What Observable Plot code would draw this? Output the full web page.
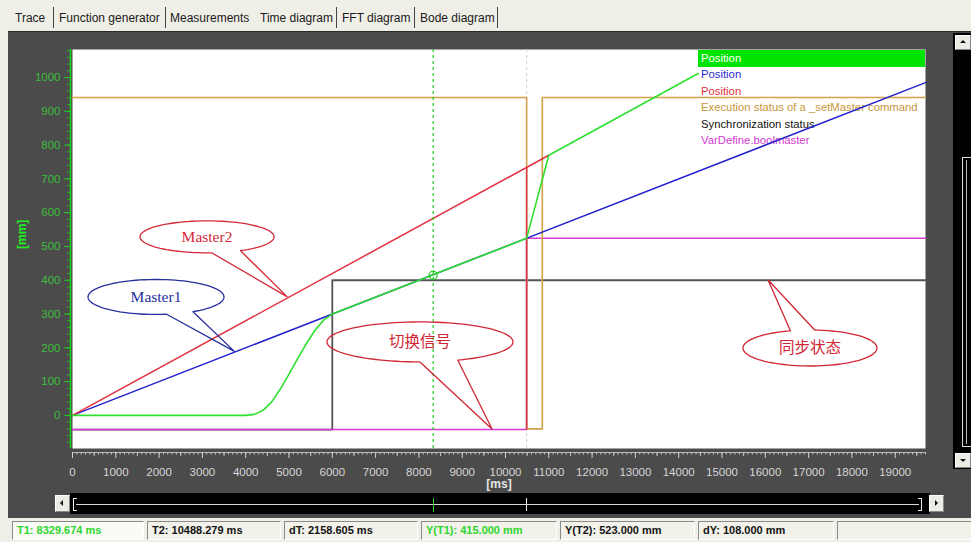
<!DOCTYPE html>
<html><head><meta charset="utf-8">
<script src="https://cdn.jsdelivr.net/npm/d3@7"></script>
<script src="https://cdn.jsdelivr.net/npm/@observablehq/plot@0.6"></script>
<style>
html,body{margin:0;padding:0;width:971px;height:542px;overflow:hidden;background:#efeee7;font-family:"Liberation Sans",Arial,sans-serif;}
.abs{position:absolute;}
.tab{position:absolute;top:10px;font-size:12px;color:#1a1a1a;line-height:16px;white-space:nowrap;}
.sep{position:absolute;top:7px;width:1px;height:21px;background:#444;}
#panel{left:8px;top:31px;width:963px;height:486px;background:#4b4b4b;border-top:1px solid #2a2a2a;}
#chart{left:8px;top:33px;}
.btn{position:absolute;background:#ecebe6;border:1px solid #fff;border-right-color:#888;border-bottom-color:#888;box-sizing:border-box;}
.tri{position:absolute;width:0;height:0;}
.cell{position:absolute;top:521px;height:19px;box-sizing:border-box;border-top:1px solid #8a8a8a;border-left:1px solid #8a8a8a;border-bottom:1px solid #fff;border-right:1px solid #fff;font-size:11px;font-weight:bold;line-height:17px;padding-left:4px;white-space:nowrap;color:#141414;background:#f2f1ea;}
</style></head>
<body>
<div id="tabs"></div>
<div id="panel" class="abs"></div>
<div id="chart" class="abs"></div>
<div id="ui"></div>
<div id="status"></div>
<script>
// ---------------- data ----------------
const tabLabels = ["Trace", "Function generator", "Measurements", "Time diagram", "FFT diagram", "Bode diagram"];

// Master1 position (blue)
const master1Time = [0, 19700];
const master1Pos = [0, 985];
// Master2 position (red)
const master2Time = [0, 11000];
const master2Pos = [0, 770];
// Slave position (green)
const slaveTime = [0, 4000, 4200, 4400, 4600, 4800, 5000, 5200, 5400, 5600, 5800, 6000, 10488, 11000, 14450];
const slavePos = [0, 0, 3, 15, 40, 78, 122, 168, 212, 252, 282, 300, 524, 770, 1012];
// Execution status of a _setMaster command (orange)
const execTime = [0, 10488, 10488, 10850, 10850, 19700];
const execStatus = [941, 941, -40, -40, 941, 941];
// Synchronization status (dark gray)
const syncTime = [0, 6000, 6000, 19700];
const syncStatus = [-42, -42, 400, 400];
// VarDefine.boolmaster (magenta)
const boolTime = [0, 10488, 10488, 19700];
const boolMaster = [-42, -42, 524, 524];
// switch signal edge (red vertical)
const switchTime = [10488, 10488];
const switchLevel = [-42, 733];

// cursors
const cursorT1 = 8329.674, cursorT2 = 10488.279;
const cursorY1 = 415, cursorY2 = 523;

// legend
const legendLabels = ["Position", "Position", "Position", "Execution status of a _setMaster command", "Synchronization status", "VarDefine.boolmaster"];
const legendColors = ["#ffffff", "#2a2ad6", "#e0303a", "#c8963a", "#111111", "#d23ad2"];

// ticks
const xTicks = d3.range(0, 19001, 1000);
const xMidTicks = d3.range(500, 19701, 1000);
const xMinorTicks = d3.range(0, 19701, 100);
const yTicks = d3.range(0, 1001, 100);
const yMinorTicks = d3.range(-80, 1081, 20);

// callouts (anchor and tip in data coordinates)
const calloutLabels = ["Master2", "Master1", "切换信号", "同步状态"];
const calloutT = [3118, 1940, 8037, 17044];
const calloutV = [527, 349, 216, 198];
const calloutTipT = [4966, 3750, 9700, 16073];
const calloutTipV = [350, 188, -42, 400];
const calloutRx = [67, 68, 93, 67];
const calloutRy = [16, 17.5, 20, 18];
const calloutGapA = [60, 57, 66, 253];
const calloutGapB = [86, 81, 90, 274];
const calloutColors = ["#d42a3a", "#26309e", "#d02636", "#d02636"];
const calloutFonts = ["'Liberation Serif','Times New Roman',serif", "'Liberation Serif','Times New Roman',serif", "'Noto Sans CJK SC',sans-serif", "'Noto Sans CJK SC',sans-serif"];

// ---------------- chart ----------------
const rows = (T, V) => T.map((t, i) => ({t, v: V[i]}));
const trace = (T, V, color, w = 1.5) => Plot.line(rows(T, V), {x: "t", y: "v", stroke: color, strokeWidth: w});

function legendMark(index, scales, values, dims) {
  const g = d3.create("svg:g");
  const x0 = dims.width - dims.marginRight - 227, y0 = dims.marginTop + 1;
  g.append("clipPath").attr("id", "lgclip").append("rect")
    .attr("x", x0).attr("y", y0 - 1).attr("width", 227).attr("height", 120);
  g.append("rect").attr("x", x0).attr("y", y0).attr("width", 227).attr("height", 17).attr("fill", "#00e400");
  const tg = g.append("g").attr("clip-path", "url(#lgclip)");
  legendLabels.forEach((d, i) => {
    tg.append("text").attr("x", x0 + 3).attr("y", y0 + 8 + i * 16.5).attr("dy", "0.35em")
      .attr("text-anchor", "start")
      .attr("fill", legendColors[i]).attr("font-size", 11.3).attr("font-family", "'Liberation Sans',Arial,sans-serif").text(d);
  });
  return g.node();
}

function calloutMark(index, scales, values, dims) {
  const g = d3.create("svg:g");
  calloutLabels.forEach((lab, i) => {
    const cx = scales.x(calloutT[i]), cy = scales.y(calloutV[i]);
    const tx = scales.x(calloutTipT[i]), ty = scales.y(calloutTipV[i]);
    const a = calloutGapA[i] * Math.PI / 180, b = calloutGapB[i] * Math.PI / 180;
    const rx = calloutRx[i], ry = calloutRy[i];
    const pts = [];
    const n = 90;
    for (let k = 0; k <= n; k++) {
      const th = b + (a + 2 * Math.PI - b) * k / n;
      pts.push([cx + rx * Math.cos(th), cy + ry * Math.sin(th)]);
    }
    pts.push([tx, ty]);
    pts.push(pts[0]);
    g.append("path").attr("d", d3.line()(pts)).attr("fill", "none")
      .attr("stroke", calloutColors[i]).attr("stroke-width", 1.3).attr("stroke-linejoin", "round");
    g.append("text").attr("x", cx).attr("y", cy).attr("dy", "0.35em").attr("text-anchor", "middle")
      .attr("fill", calloutColors[i]).attr("font-size", 15.5)
      .attr("font-family", calloutFonts[i]).text(lab);
  });
  return g.node();
}

const chart = Plot.plot({
  width: 940, height: 457,
  marginLeft: 64, marginRight: 23, marginTop: 16, marginBottom: 42,
  style: {background: "transparent", fontFamily: "'Liberation Sans',Arial,sans-serif", fontSize: "11px", overflow: "visible"},
  x: {domain: [0, 19700], label: null},
  y: {domain: [-98, 1083], label: null},
  marks: [
    Plot.frame({fill: "#ffffff", stroke: null}),
    // x ruler
    Plot.ruleY([-98], {dy: 4, stroke: "#b8b8b8"}),
    Plot.axisX(xMinorTicks, {tickSize: 2.5, dy: 4, stroke: "#c4c4c4", tickFormat: () => ""}),
    Plot.axisX(xMidTicks, {tickSize: 4, dy: 4, stroke: "#c4c4c4", tickFormat: () => ""}),
    Plot.axisX(xTicks, {tickSize: 6, dy: 4, tickPadding: 9, stroke: "#d0d0d0", fill: "#d6d6d6", fontSize: 11.5, tickFormat: d => String(d)}),
    // y ruler
    Plot.ruleX([0], {dx: -2, stroke: "#1fcf1f", strokeWidth: 1.5}),
    Plot.axisY(yMinorTicks, {tickSize: 3, dx: -2, stroke: "#22bb22", tickFormat: () => ""}),
    Plot.axisY(yTicks, {tickSize: 6, dx: -2, tickPadding: 4, stroke: "#22cc22", fill: "#3cbf3c", fontSize: 11.5, tickFormat: d => String(d)}),
    Plot.text(["[mm]"], {frameAnchor: "left", dx: -50, rotate: -90, fill: "#22ee22", fontWeight: "bold", fontSize: 12}),
    Plot.text(["[ms]"], {frameAnchor: "bottom", dy: 39, fill: "#e4e4e4", fontWeight: "bold", fontSize: 12}),
    // legend (beneath traces)
    legendMark,
    // cursor T2
    Plot.ruleX([cursorT2], {stroke: "#cfcfcf", strokeDasharray: "3,3"}),
    // traces
    trace(syncTime, syncStatus, "#555555", 1.8),
    trace(boolTime, boolMaster, "#d83ad8", 1.5),
    trace(execTime, execStatus, "#d4a049", 1.6),
    trace(master1Time, master1Pos, "#2222cc", 1.5),
    trace(master2Time, master2Pos, "#e33040", 1.5),
    trace(switchTime, switchLevel, "#d83848", 1.5),
    trace(slaveTime, slavePos, "#2fe02f", 1.6),
    // cursor T1
    Plot.ruleX([cursorT1], {stroke: "#1fcc1f", strokeWidth: 1.2, strokeDasharray: "3,3"}),
    Plot.dot([{t: cursorT1, v: cursorY1}], {x: "t", y: "v", r: 4, stroke: "#1fcc1f", fill: "none", strokeWidth: 1.2}),
    calloutMark
  ]
});
document.getElementById("chart").appendChild(chart);

// ---------------- surrounding UI ----------------
const tabX = [15, 59, 170, 260, 342, 420];
const sepX = [53, 165, 336, 414, 497];
const tabs = document.getElementById("tabs");
tabLabels.forEach((t, i) => {
  const d = document.createElement("div"); d.className = "tab"; d.style.left = tabX[i] + "px"; d.textContent = t; tabs.appendChild(d);
});
sepX.forEach(x => { const s = document.createElement("div"); s.className = "sep"; s.style.left = x + "px"; tabs.appendChild(s); });

const ui = document.getElementById("ui");
function box(css, cls) { const d = document.createElement("div"); d.className = cls || "abs"; d.setAttribute("style", css); ui.appendChild(d); return d; }
// right vertical scrollbar
box("left:953px;top:33px;width:18px;height:436px;background:#000;");
box("left:955px;top:35px;width:16px;height:15px;", "btn");
box("left:960px;top:40px;border-left:3px solid transparent;border-right:3px solid transparent;border-bottom:3px solid #111;", "tri");
box("left:955px;top:453px;width:16px;height:15px;", "btn");
box("left:960px;top:459px;border-left:3px solid transparent;border-right:3px solid transparent;border-top:3px solid #111;", "tri");
box("left:962px;top:157px;width:9px;height:290px;border-left:1px solid #ddd;border-top:1px solid #ddd;border-bottom:1px solid #ddd;box-sizing:border-box;");
box("left:966px;top:160px;width:1px;height:284px;background:#bbb;");
// bottom horizontal scrollbar
box("left:70px;top:493px;width:860px;height:21px;background:#000;");
box("left:55px;top:495px;width:15px;height:17px;", "btn");
box("left:60px;top:500px;border-top:3px solid transparent;border-bottom:3px solid transparent;border-right:3px solid #111;", "tri");
box("left:929px;top:495px;width:15px;height:17px;", "btn");
box("left:935px;top:500px;border-top:3px solid transparent;border-bottom:3px solid transparent;border-left:3px solid #111;", "tri");
box("left:73px;top:498px;width:4px;height:13px;border-left:1px solid #eee;border-top:1px solid #eee;border-bottom:1px solid #eee;box-sizing:border-box;");
box("left:918px;top:498px;width:4px;height:13px;border-right:1px solid #eee;border-top:1px solid #eee;border-bottom:1px solid #eee;box-sizing:border-box;");
box("left:76px;top:504px;width:843px;height:1px;background:#d8d8d8;");
const sx = chart.scale("x");
box(`left:${Math.round(8 + sx.apply(cursorT1))}px;top:498px;width:1px;height:14px;background:#2fd02f;`);
box(`left:${Math.round(8 + sx.apply(cursorT2))}px;top:498px;width:1px;height:13px;background:#e8e8e8;`);

// status bar
const fmt = v => v.toFixed(3);
const statusTexts = [
  `T1: ${fmt(cursorT1)} ms`, `T2: ${fmt(cursorT2)} ms`, `dT: ${fmt(cursorT2 - cursorT1)} ms`,
  `Y(T1):  ${fmt(cursorY1)} mm`, `Y(T2): ${fmt(cursorY2)} mm`, `dY: ${fmt(cursorY2 - cursorY1)} mm`, ""
];
const statusColors = ["#2ed62e", "#141414", "#141414", "#2ed62e", "#141414", "#141414", "#141414"];
const cellX = [12, 147, 284, 421, 560, 698, 837, 975];
const st = document.getElementById("status");
statusTexts.forEach((t, i) => {
  const c = document.createElement("div"); c.className = "cell";
  c.style.left = cellX[i] + "px"; c.style.width = (cellX[i + 1] - cellX[i] - 3) + "px";
  c.style.color = statusColors[i];
  if (i === 0) c.style.background = "#fbfbf6";
  c.textContent = t; st.appendChild(c);
});
</script>
</body></html>
